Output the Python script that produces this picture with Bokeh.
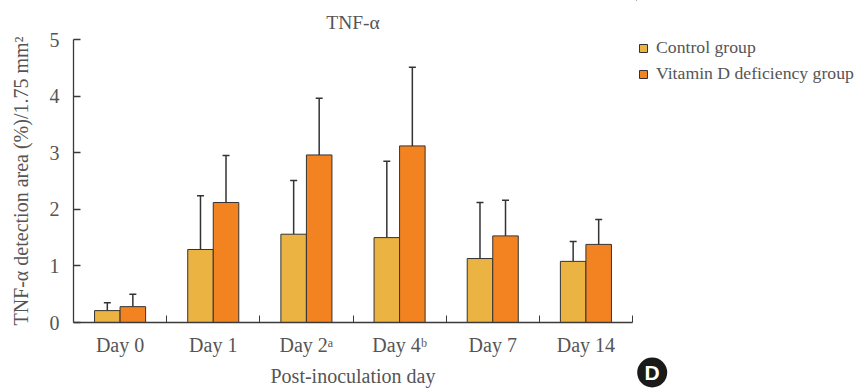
from bokeh.plotting import figure
from bokeh.layouts import row
from bokeh.models import (Range1d, FixedTicker, Legend, LegendItem, Whisker, TeeHead,
                          ColumnDataSource)
from bokeh.core.properties import value
from bokeh.embed import file_html
from bokeh.resources import INLINE

# ---- data ----
days = ["Day 0", "Day 1", "Day 2ᵃ", "Day 4ᵇ", "Day 7", "Day 14"]
control = [0.21, 1.29, 1.56, 1.50, 1.13, 1.08]
control_sd = [0.14, 0.95, 0.95, 1.35, 0.99, 0.35]
vitd = [0.28, 2.12, 2.96, 3.12, 1.53, 1.38]
vitd_sd = [0.22, 0.83, 1.00, 1.39, 0.63, 0.44]
y_ticks = [0, 1, 2, 3, 4, 5]
series_names = ["Control group", "Vitamin D deficiency group"]
panel_letter = "D"

# ---- styles ----
C_CTRL = "#EAB342"
C_VITD = "#F38321"
TXT = "#555555"
AX = "#3a3a3a"
FONT = "Liberation Serif"
BAR_W = 0.274

centers = [i + 0.5 for i in range(len(days))]
x_ctrl = [c - BAR_W / 2 for c in centers]
x_vitd = [c + BAR_W / 2 for c in centers]

src_c = ColumnDataSource(dict(x=x_ctrl, top=control,
                              upper=[m + s for m, s in zip(control, control_sd)]))
src_v = ColumnDataSource(dict(x=x_vitd, top=vitd,
                              upper=[m + s for m, s in zip(vitd, vitd_sd)]))

p = figure(width=636, height=389, output_backend="svg", toolbar_location=None,
           x_range=Range1d(0, len(days)), y_range=Range1d(0, 5),
           min_border_left=73, min_border_right=4, min_border_top=39, min_border_bottom=65,
           frame_align=False)
p.outline_line_color = None
p.grid.visible = False

p.vbar(x="x", top="top", width=BAR_W, source=src_c, fill_color=C_CTRL,
       line_color="#333333", line_width=1)
p.vbar(x="x", top="top", width=BAR_W, source=src_v, fill_color=C_VITD,
       line_color="#333333", line_width=1)

for src in (src_c, src_v):
    w = Whisker(base="x", lower="top", upper="upper", source=src, dimension="height",
                line_color="#333333", line_width=1.5,
                upper_head=TeeHead(size=7, line_color="#333333", line_width=1.5),
                lower_head=None)
    p.add_layout(w)

# axes
xa = p.xaxis[0]
xa.ticker = FixedTicker(ticks=centers, minor_ticks=[i + 1 for i in range(len(days))])
xa.major_label_overrides = {c: d for c, d in zip(centers, days)}
xa.major_tick_in = 0
xa.major_tick_out = 0
xa.minor_tick_in = 7
xa.minor_tick_out = 0
xa.minor_tick_line_color = AX
xa.axis_line_color = AX
xa.axis_line_width = 1.3
xa.major_label_text_font = FONT
xa.major_label_text_font_size = "20px"
xa.major_label_text_color = TXT
xa.major_label_standoff = 11
xa.axis_label = "Post-inoculation day"
xa.axis_label_text_font = FONT
xa.axis_label_text_font_size = "20px"
xa.axis_label_text_font_style = "normal"
xa.axis_label_text_color = TXT
xa.axis_label_standoff = 6

ya = p.yaxis[0]
ya.ticker = FixedTicker(ticks=y_ticks, minor_ticks=[])
ya.major_tick_in = 7
ya.major_tick_out = 0
ya.major_tick_line_color = AX
ya.major_tick_line_width = 1.3
ya.axis_line_color = AX
ya.axis_line_width = 1.3
ya.major_label_text_font = FONT
ya.major_label_text_font_size = "20px"
ya.major_label_text_color = TXT
ya.major_label_standoff = 14
ya.axis_label = "TNF-α detection area (%)/1.75 mm²"
ya.axis_label_text_font = FONT
ya.axis_label_text_font_size = "20px"
ya.axis_label_text_font_style = "normal"
ya.axis_label_text_color = TXT
ya.axis_label_standoff = 15

# title
p.title.text = "TNF-α"
p.title.align = "center"
p.title.vertical_align = "top"
p.title.text_font = FONT
p.title.text_font_size = "19.5px"
p.title.text_font_style = "normal"
p.title.text_color = TXT
p.title.standoff = 10

# ---- side panel: legend + panel badge ----
q = figure(width=223, height=389, output_backend="svg", toolbar_location=None,
           x_range=Range1d(0, 223), y_range=Range1d(389, 0),
           x_axis_type=None, y_axis_type=None,
           min_border_left=0, min_border_right=0, min_border_top=0, min_border_bottom=0,
           frame_align=False)
q.outline_line_color = None
q.grid.visible = False

# legend proxies (kept outside the visible range of the side panel)
proxy = ColumnDataSource(dict(x=[-1000], top=[-1000]))
lc = q.vbar(x="x", top="top", width=1, source=proxy, fill_color=C_CTRL,
            line_color="#333333", line_width=1)
lv = q.vbar(x="x", top="top", width=1, source=proxy, fill_color=C_VITD,
            line_color="#333333", line_width=1)

legend = Legend(items=[LegendItem(label=series_names[0], renderers=[lc], index=0),
                       LegendItem(label=series_names[1], renderers=[lv], index=0)],
                location=(2, 305), padding=0, margin=0, spacing=5,
                glyph_width=10, glyph_height=10, label_standoff=8, label_height=20,
                label_text_font=FONT, label_text_font_size="17.7px",
                label_text_color=TXT, border_line_color=None,
                background_fill_alpha=0)
q.add_layout(legend)

badge_src = ColumnDataSource(dict(x=[15.7], y=[372], t=[panel_letter]))
q.scatter(x="x", y="y", size=30, marker="circle", source=badge_src,
          fill_color="#1a1a1a", line_color=None)
q.text(x="x", y="y", text="t", source=badge_src, text_align="center",
       text_baseline="middle", text_color="white", text_font=value("Liberation Sans"),
       text_font_style="bold", text_font_size="21px")

layout = row(p, q, spacing=0)
open("out.html", "w").write(file_html(layout, INLINE))
